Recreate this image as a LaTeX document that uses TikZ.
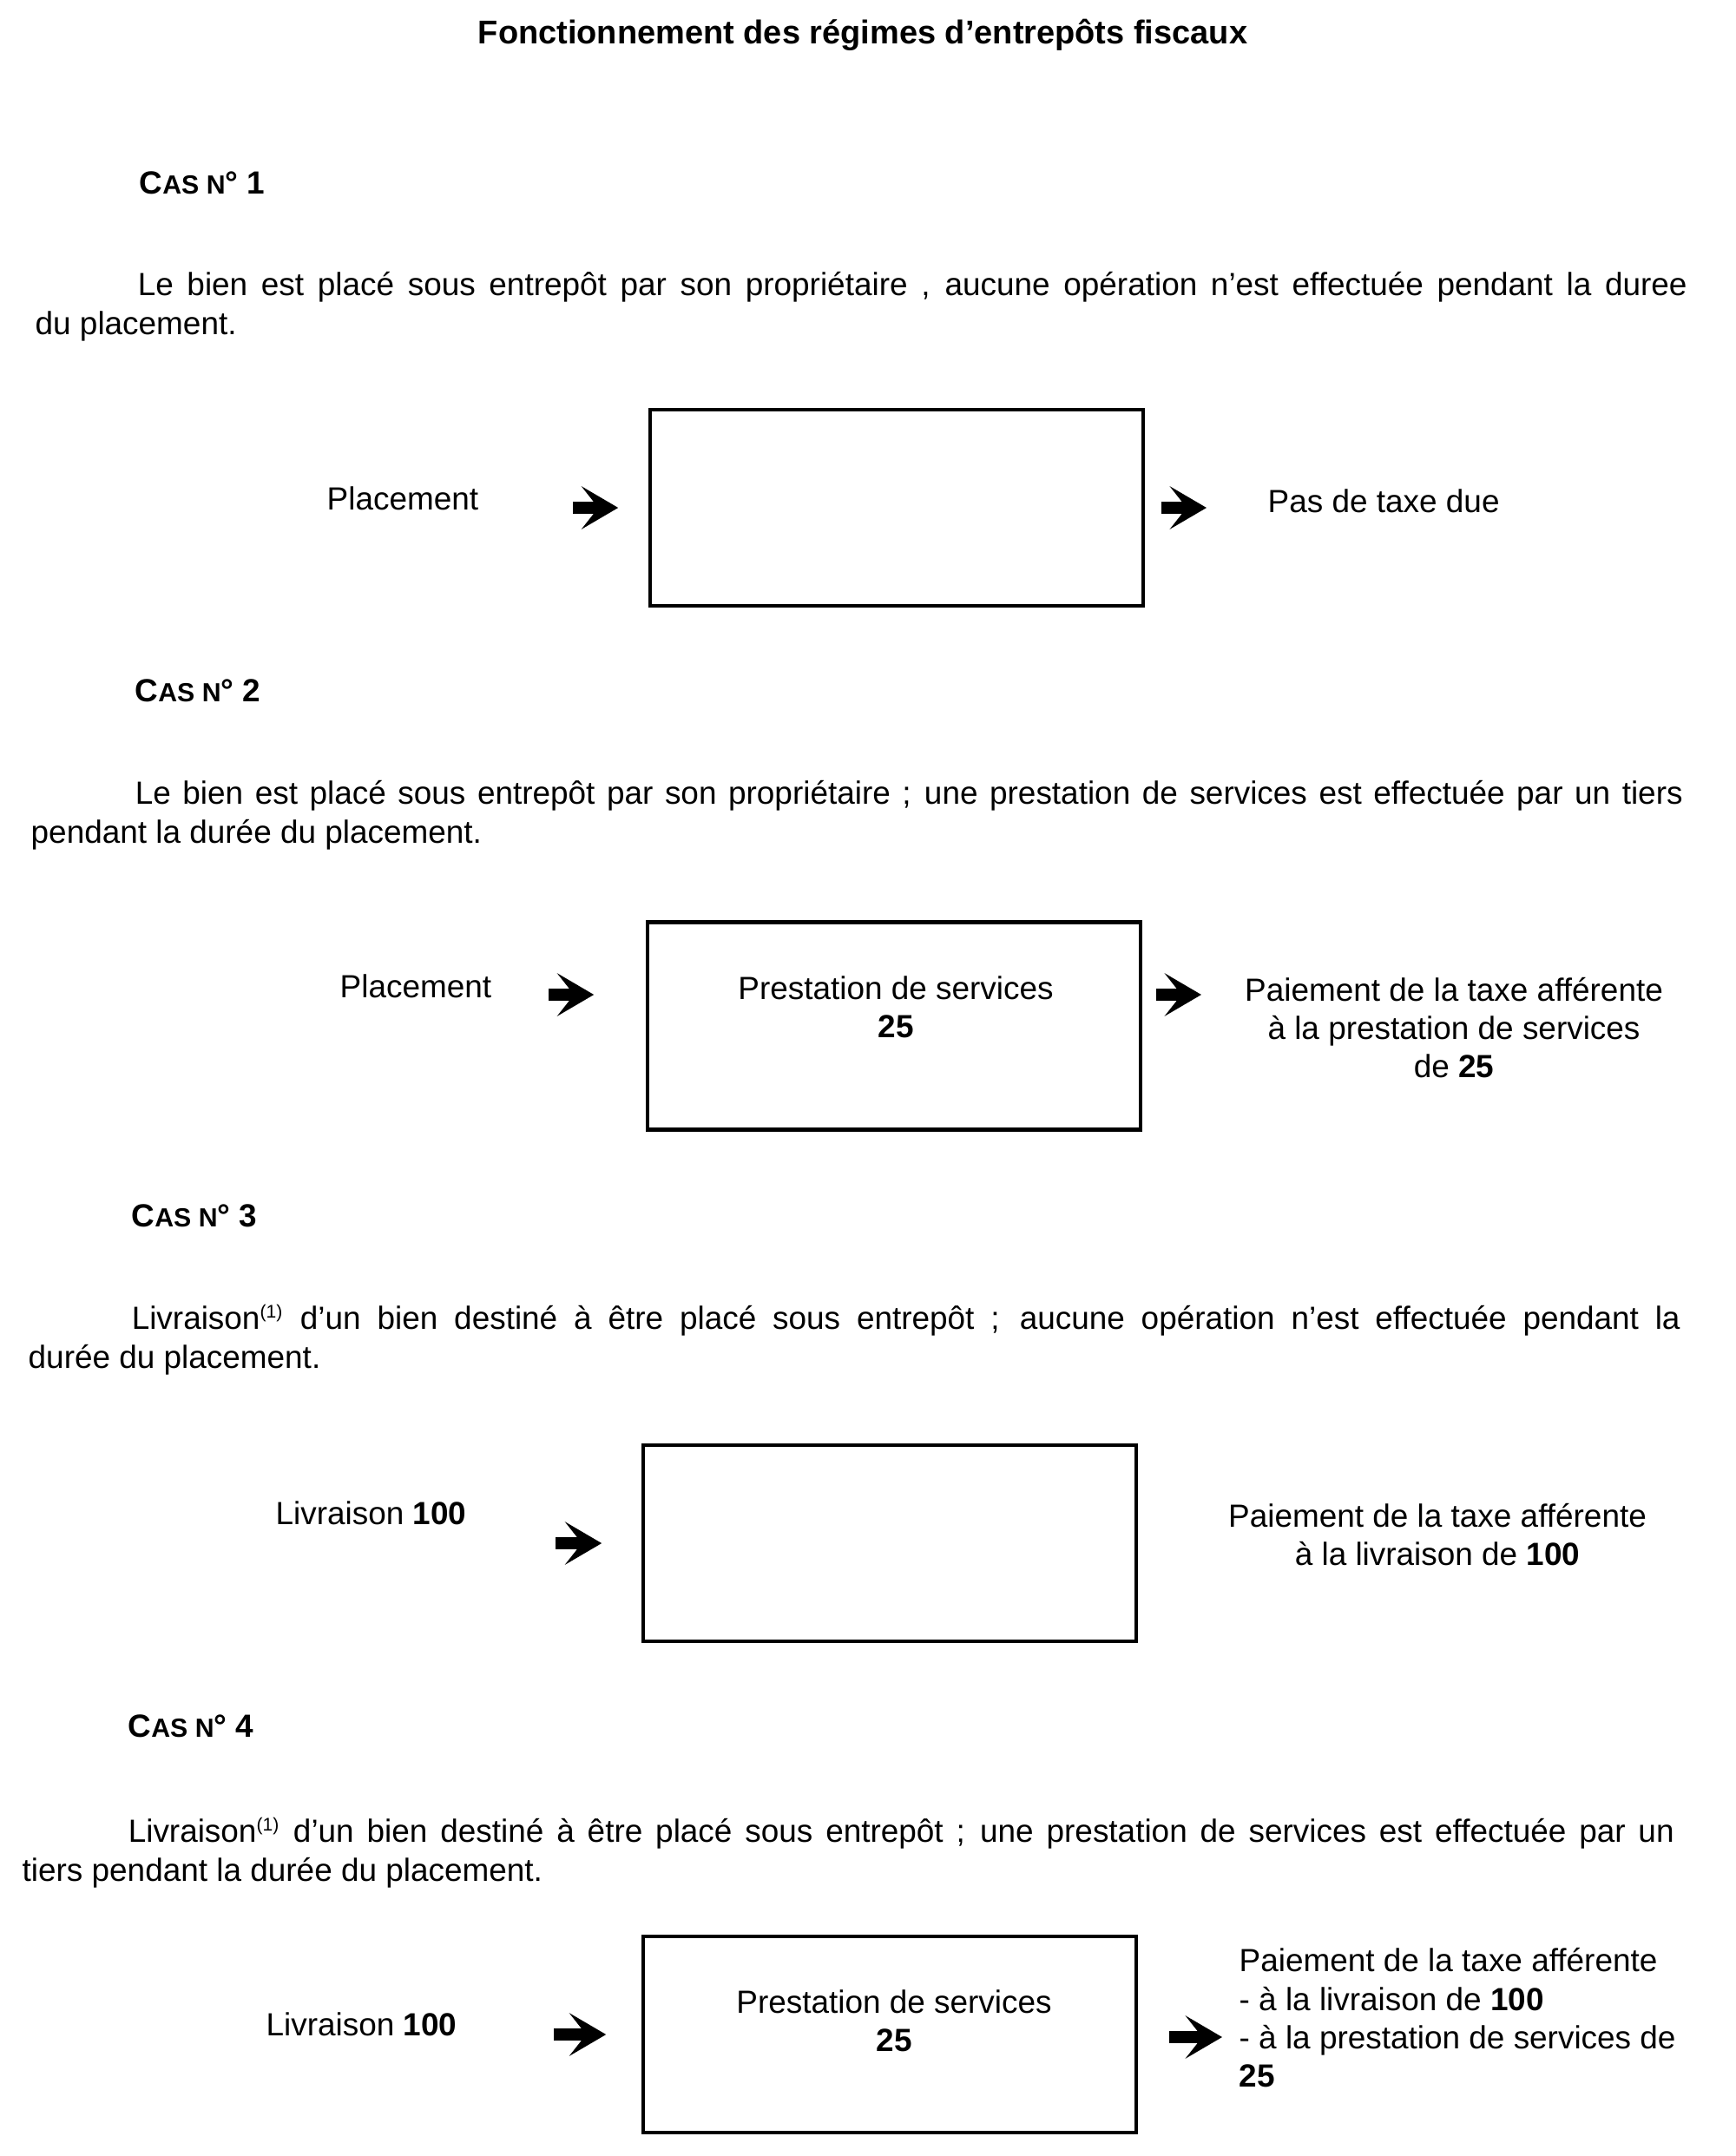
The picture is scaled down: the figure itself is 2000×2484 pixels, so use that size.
\documentclass[tikz,border=0pt]{standalone}
\usepackage{fontspec}
\setmainfont{Liberation Sans}
\usetikzlibrary{arrows.meta,positioning}

\newcommand{\casno}[1]{{\bfseries C{\fontsize{8.6}{10}\selectfont AS N}°\ #1}}
\newcommand{\renvoi}{\textsuperscript{\fontsize{6}{6}\selectfont(1)}}

\begin{document}
\begin{tikzpicture}[x=0.01cm, y=-0.01cm,
    txt/.style={inner sep=0pt, font=\fontsize{10.5}{12.6}\selectfont},
    para/.style={txt, anchor=north west, text width=19.02cm, align=justify},
    cas/.style={inner sep=0pt, anchor=west, font=\fontsize{10.5}{12}\selectfont},
    cell/.style={draw, line width=1.2pt, minimum width=5.67cm, minimum height=2.26cm, inner sep=0pt},
    flow/.style={line width=3.8pt, -{Stealth[length=12pt, width=14pt, inset=5.5pt]}}
]
    \useasboundingbox (0,0) rectangle (2000,2484);

    % Title
    \node[inner sep=0pt, font=\fontsize{10.8}{13}\selectfont\bfseries] (title) at (994,40)
        {Fonctionnement des régimes d'entrepôts fiscaux};

    % Cas 1
    \node[cas] (cas1) at (160,211) {\casno{1}};
    \node[para] (p1) at (40,313) {\hspace*{1.18cm}Le bien est placé sous entrepôt par son propriétaire , aucune opération n'est effectuée pendant la duree\linebreak du placement.};
    \node[cell] (box1) at (1033,585) {};
    \node[txt, anchor=west] (in1txt) at (376,574) {Placement};
    \node[txt, anchor=west] (out1txt) at (1460,577) {Pas de taxe due};
    \coordinate (in1) at (660,585);
    \coordinate (out1) at (1390,585);
    \draw[flow, shorten >=0.35cm] (in1) -- (in1 -| box1.west);
    \draw[flow, shorten <=0.19cm] (out1 -| box1.east) -- (out1);

    % Cas 2
    \node[cas] (cas2) at (155,796) {\casno{2}};
    \node[para] (p2) at (35,899) {\hspace*{1.2cm}Le bien est placé sous entrepôt par son propriétaire ; une prestation de services est effectuée par un tiers\linebreak pendant la durée du placement.};
    \node[cell, minimum height=2.39cm] (box2) at (1030,1182) {};
    \node[txt, align=center] (box2txt) at (1032,1160) {Prestation de services\\\textbf{25}};
    \node[txt, anchor=west] (in2txt) at (391,1136) {Placement};
    \node[txt, align=center] (out2txt) at (1675,1184)
        {Paiement de la taxe afférente\\à la prestation de services\\de \textbf{25}};
    \coordinate (in2) at (632,1146);
    \coordinate (out2) at (1384,1146);
    \draw[flow, shorten >=0.60cm] (in2) -- (in2 -| box2.west);
    \draw[flow, shorten <=0.16cm] (out2 -| box2.east) -- (out2);

    % Cas 3
    \node[cas] (cas3) at (151,1401) {\casno{3}};
    \node[para] (p3) at (32,1502) {\hspace*{1.19cm}Livraison\renvoi{} d'un bien destiné à être placé sous entrepôt ; aucune opération n'est effectuée pendant la\linebreak durée du placement.};
    \node[cell] (box3) at (1025,1778) {};
    \node[txt, anchor=west] (in3txt) at (317,1743) {Livraison \textbf{100}};
    \node[txt, align=center] (out3txt) at (1656,1768)
        {Paiement de la taxe afférente\\à la livraison de \textbf{100}};
    \coordinate (in3) at (640,1778);
    \draw[flow, shorten >=0.46cm] (in3) -- (in3 -| box3.west);

    % Cas 4
    \node[cas] (cas4) at (147,1989) {\casno{4}};
    \node[para] (p4) at (25,2093) {\hspace*{1.22cm}Livraison\renvoi{} d'un bien destiné à être placé sous entrepôt ; une prestation de services est effectuée par un\linebreak tiers pendant la durée du placement.};
    \node[cell] (box4) at (1025,2344) {};
    \node[txt, align=center] (box4txt) at (1030,2328) {Prestation de services\\\textbf{25}};
    \node[txt, anchor=west] (in4txt) at (306,2332) {Livraison \textbf{100}};
    \node[txt, align=left, anchor=west] (out4txt) at (1427,2325)
        {Paiement de la taxe afférente\\- à la livraison de \textbf{100}\\- à la prestation de services de\\\textbf{25}};
    \coordinate (in4) at (638,2344);
    \coordinate (out4) at (1408,2347);
    \draw[flow, shorten >=0.41cm] (in4) -- (in4 -| box4.west);
    \draw[flow, shorten <=0.36cm] (out4 -| box4.east) -- (out4);
\end{tikzpicture}
\end{document}
